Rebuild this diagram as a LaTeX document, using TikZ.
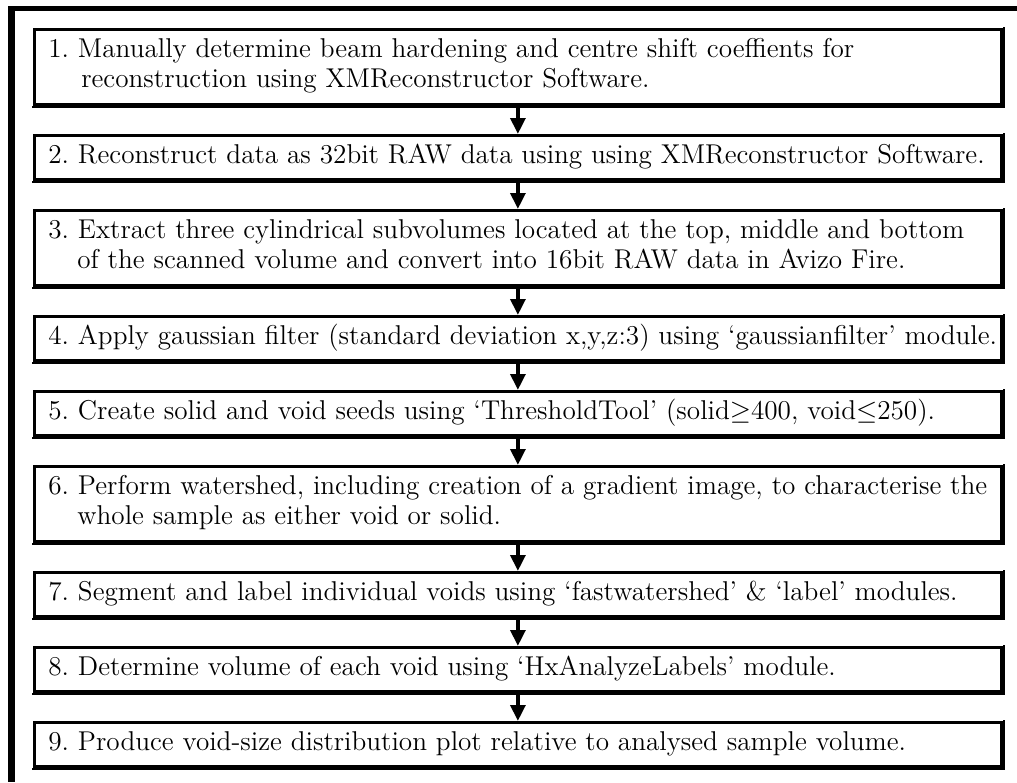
\documentclass[tikz,border=0pt]{standalone}
\usepackage{graphicx}
\usetikzlibrary{arrows.meta}
\newcommand{\steptext}[1]{\makebox[704.25pt][l]{\scalebox{1.7}{\fontsize{12}{13.2}\selectfont\begin{tabular}{@{}l@{}}#1\end{tabular}}}}
\begin{document}
\begin{tikzpicture}[x=0.75pt,y=-0.75pt,
  stepbox/.style={draw, line width=2.1pt, anchor=north west, minimum width=725.25pt,
    inner xsep=10.5pt, inner ysep=0pt},
  one/.style={minimum height=33pt},
  two/.style={minimum height=56.25pt},
  edge/.style={line width=1.6pt},
  flow/.style={-{Triangle[width=11pt,length=12pt]}, line width=3.4pt}]
\useasboundingbox (0,0) rectangle (1017,782);
\draw[line width=3.5pt] (8,8.5) -- (1017,8.5);
\draw[line width=5pt] (11.5,6) -- (11.5,782);

\node[stepbox,two] (b1) at (33,28) {\steptext{1.~Manually determine beam hardening and centre shift coeffients for\\\hspace*{14.5pt}reconstruction using XMReconstructor Software.}};
\node[stepbox,one] (b2) at (33,134) {\steptext{2.~Reconstruct data as 32bit RAW data using using XMReconstructor Software.}};
\node[stepbox,two] (b3) at (33,209) {\steptext{3.~Extract three cylindrical subvolumes located at the top, middle and bottom\\\hspace*{12.8pt}of the scanned volume and convert into 16bit RAW data in Avizo Fire.}};
\node[stepbox,one] (b4) at (33,315) {\steptext{4.~Apply gaussian filter (standard deviation x,y,z:3) using `gaussianfilter' module.}};
\node[stepbox,one] (b5) at (33,390) {\steptext{5.~Create solid and void seeds using `ThresholdTool' (solid$\geq$400, void$\leq$250).}};
\node[stepbox,two] (b6) at (33,465) {\steptext{6.~Perform watershed, including creation of a gradient image, to characterise the\\\hspace*{12.8pt}whole sample as either void or solid.}};
\node[stepbox,one] (b7) at (33,571) {\steptext{7.~Segment and label individual voids using `fastwatershed' \& `label' modules.}};
\node[stepbox,one] (b8) at (33,646) {\steptext{8.~Determine volume of each void using `HxAnalyzeLabels' module.}};
\node[stepbox,one] (b9) at (33,721) {\steptext{9.~Produce void-size distribution plot relative to analysed sample volume.}};

\foreach \b in {b1,b2,b3,b4,b5,b6,b7,b8,b9}
  \draw[edge] ([shift={(1.5,-1)}]\b.north east) -- ([shift={(1.5,1)}]\b.south east) -- ([shift={(-1,1)}]\b.south west);

\draw[flow] (b1.south) -- (b2.north);
\draw[flow] (b2.south) -- (b3.north);
\draw[flow] (b3.south) -- (b4.north);
\draw[flow] (b4.south) -- (b5.north);
\draw[flow] (b5.south) -- (b6.north);
\draw[flow] (b6.south) -- (b7.north);
\draw[flow] (b7.south) -- (b8.north);
\draw[flow] (b8.south) -- (b9.north);
\end{tikzpicture}
\end{document}
